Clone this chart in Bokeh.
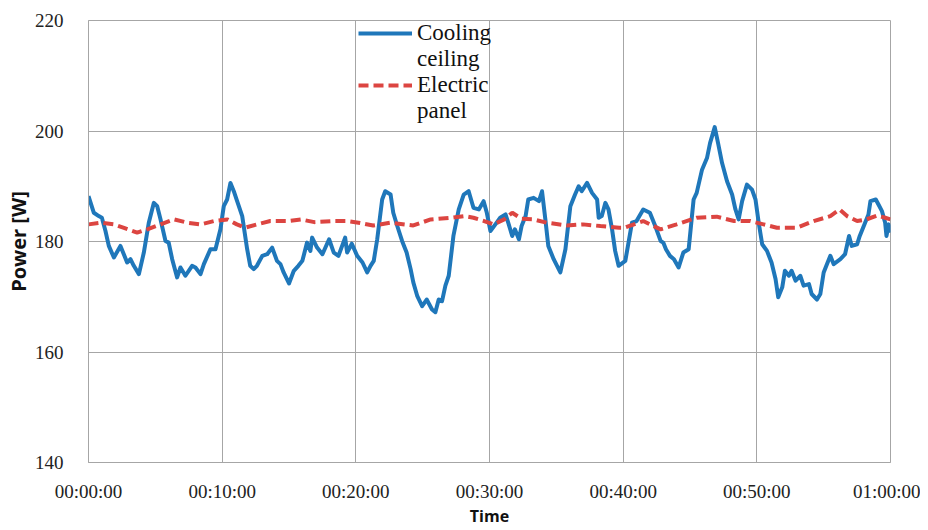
from bokeh.plotting import figure
from bokeh.models import FixedTicker, Legend, LegendItem, Range1d
from bokeh.embed import file_html
from bokeh.resources import INLINE

# ---- data (minutes, W) ----
cool_t = [0, 0.4, 0.77, 1.0, 1.27, 1.52, 1.9, 2.39, 2.89, 3.14, 3.39, 3.77, 4.14, 4.51, 4.89, 5.14,
          5.39, 5.76, 6.0, 6.26, 6.63, 6.88, 7.25, 7.75, 8.0, 8.38, 8.63, 9.12, 9.5, 9.87, 10.12,
          10.37, 10.62, 10.87, 11.12, 11.5, 11.87, 12.1, 12.36, 12.6, 13.0, 13.37, 13.74, 14.1,
          14.36, 14.6, 15.0, 15.36, 15.7, 16.0, 16.35, 16.6, 16.73, 17.1, 17.5, 18.0, 18.35, 18.7,
          19.2, 19.35, 19.7, 20.1, 20.5, 20.85, 21.1, 21.34, 21.6, 21.97, 22.2, 22.6, 22.8, 23.1,
          23.46, 23.8, 24.1, 24.3, 24.6, 24.96, 25.3, 25.7, 25.95, 26.2, 26.45, 26.7, 26.95, 27.3,
          27.7, 28.07, 28.44, 28.8, 29.2, 29.56, 29.8, 30.07, 30.44, 30.8, 31.2, 31.4, 31.7, 31.9,
          32.2, 32.4, 32.7, 32.9, 33.3, 33.7, 33.93, 34.18, 34.4, 34.8, 35.3, 35.68, 36.05, 36.4,
          36.67, 36.9, 37.3, 37.67, 38.05, 38.17, 38.4, 38.67, 38.9, 39.17, 39.4, 39.66, 40.16,
          40.4, 40.66, 41.0, 41.5, 42.0, 42.4, 42.8, 43.0, 43.2, 43.5, 43.8, 44.15, 44.5, 44.9,
          45.27, 45.5, 45.9, 46.27, 46.5, 46.85, 47.1, 47.4, 47.77, 48.15, 48.4, 48.64, 48.9,
          49.26, 49.64, 49.9, 50.14, 50.4, 50.76, 51.1, 51.4, 51.6, 51.9, 52.1, 52.4, 52.6, 52.9,
          53.25, 53.5, 53.9, 54.1, 54.5, 54.75, 55.0, 55.2, 55.5, 55.75, 56.25, 56.6, 56.9, 57.1,
          57.5, 57.7, 58.1, 58.35, 58.5, 58.9, 59.1, 59.36, 59.6, 59.7, 59.86, 60]
cool_w = [188.2, 185.2, 184.6, 184.3, 181.9, 179.2, 177.1, 179.2, 176.2, 176.8, 175.6, 174.1, 178.0,
          183.4, 187.0, 186.4, 184.0, 180.1, 179.8, 176.8, 173.5, 175.3, 173.8, 175.6, 175.3, 174.1,
          175.9, 178.6, 178.6, 182.2, 186.4, 187.6, 190.6, 189.1, 187.3, 184.6, 178.6, 175.6, 175.0,
          175.6, 177.4, 177.7, 178.9, 176.5, 175.9, 174.4, 172.4, 174.7, 175.6, 176.5, 179.8, 178.3,
          180.7, 178.9, 177.7, 180.4, 178.0, 177.4, 180.7, 178.0, 179.6, 177.4, 176.2, 174.4, 175.6,
          176.5, 180.4, 187.6, 189.1, 188.5, 185.2, 182.8, 180.1, 178.0, 175.0, 172.6, 170.1, 168.3,
          169.5, 167.7, 167.2, 169.5, 169.2, 172.0, 173.8, 181.0, 185.8, 188.5, 189.1, 186.1, 185.8,
          187.3, 185.2, 181.9, 183.1, 184.3, 184.9, 183.4, 181.0, 182.2, 180.4, 182.8, 184.6, 187.6,
          187.9, 187.3, 189.1, 184.0, 179.2, 176.8, 174.4, 178.6, 186.4, 188.5, 190.0, 189.1, 190.6,
          188.8, 187.6, 184.3, 184.6, 187.0, 185.8, 182.2, 178.3, 175.6, 176.5, 179.8, 183.4, 183.7,
          185.8, 185.2, 182.8, 180.1, 179.8, 178.6, 177.4, 176.8, 175.3, 178.0, 178.6, 187.6, 188.8,
          193.0, 195.1, 197.8, 200.7, 197.8, 194.2, 190.9, 188.5, 185.8, 184.0, 187.3, 190.3, 189.4,
          187.6, 183.4, 179.5, 178.3, 176.2, 173.2, 169.9, 171.7, 174.7, 173.8, 174.7, 172.9, 173.8,
          172.0, 172.3, 170.5, 169.5, 170.5, 174.4, 175.6, 177.4, 175.9, 176.8, 177.7, 181.0, 179.2,
          179.5, 181.0, 183.4, 184.9, 187.3, 187.6, 186.7, 185.5, 183.4, 181.0, 183.1, 181.6]

elec_t = [0, 0.9, 1.9, 2.6, 3.64, 4.4, 5.4, 6.4, 7.4, 8.4, 9.4, 10.4, 11.1, 11.7, 12.6, 13.6, 14.9,
          15.9, 16.9, 18.35, 19.35, 20.2, 21.3, 22.6, 24.3, 25.6, 27.1, 28.1, 28.8, 29.6, 30.3,
          31.1, 31.7, 32.4, 33.3, 34.3, 35.8, 37.0, 38.3, 39.7, 40.1, 41.5, 42.8, 44.0, 45.5, 47.0,
          48.3, 49.5, 50.5, 51.5, 53.0, 54.25, 55.5, 56.2, 56.75, 57.5, 58.2, 59.0, 59.6, 60]
elec_w = [183.1, 183.4, 183.1, 182.5, 181.6, 182.2, 183.1, 184.0, 183.4, 183.1, 183.7, 184.0, 183.1,
          182.5, 183.1, 183.7, 183.7, 184.0, 183.5, 183.7, 183.7, 183.4, 182.9, 183.4, 182.9, 184.0,
          184.3, 184.6, 184.3, 183.7, 183.1, 184.0, 185.2, 184.1, 184.0, 183.4, 182.9, 183.1, 182.8,
          182.5, 182.5, 183.7, 182.2, 183.1, 184.3, 184.5, 183.7, 183.7, 183.1, 182.5, 182.5, 183.7,
          184.6, 185.8, 184.6, 183.7, 184.0, 184.7, 184.3, 184.0]

x_ticks = [0, 10, 20, 30, 40, 50, 60]
x_tick_labels = ["00:00:00", "00:10:00", "00:20:00", "00:30:00", "00:40:00", "00:50:00", "01:00:00"]
y_ticks = [140, 160, 180, 200, 220]
# legend labels, each name wrapped onto two lines as in the original
cool_name = ["Cooling", "ceiling"]
elec_name = ["Electric", "panel"]

SERIF = "Liberation Serif"
SANS = "Open Sans"
GRID = "#a6a6a6"
BLUE = "#1f77ba"
RED = "#dc4541"

p = figure(width=920, height=529, output_backend="svg", toolbar_location=None,
           x_range=Range1d(0, 60), y_range=Range1d(140, 220),
           min_border_left=88, min_border_right=30, min_border_top=20, min_border_bottom=65)

r_cool = p.line(cool_t, cool_w, line_color=BLUE, line_width=4, line_join="round")
r_elec = p.line(elec_t, elec_w, line_color=RED, line_width=4, line_dash="10 5")
# invisible renderers that only carry the second line of each legend label
r_cool2 = p.line([], [], line_alpha=0)
r_elec2 = p.line([], [], line_alpha=0)

p.xaxis.ticker = FixedTicker(ticks=x_ticks)
p.xaxis.major_label_overrides = {t: l for t, l in zip(x_ticks, x_tick_labels)}
p.yaxis.ticker = FixedTicker(ticks=y_ticks)

for ax in (p.xaxis, p.yaxis):
    ax.axis_line_color = GRID
    ax.major_tick_line_color = None
    ax.minor_tick_line_color = None
    ax.major_label_text_font = SERIF
    ax.major_label_text_font_size = "19px"
    ax.major_label_text_color = "#222222"
    ax.axis_label_text_font = SANS
    ax.axis_label_text_font_style = "bold"
    ax.axis_label_text_color = "#111111"

p.xaxis.axis_label = "Time"
p.xaxis.axis_label_text_font_size = "16px"
p.xaxis.major_label_standoff = 12
p.xaxis.axis_label_standoff = 0
p.yaxis.axis_label = "Power [W]"
p.yaxis.axis_label_text_font_size = "20px"
p.yaxis.major_label_standoff = 19
p.yaxis.axis_label_standoff = 0

p.xgrid.grid_line_color = GRID
p.ygrid.grid_line_color = GRID
p.outline_line_color = GRID
p.background_fill_color = "white"

legend = Legend(items=[LegendItem(label=cool_name[0], renderers=[r_cool]),
                       LegendItem(label=cool_name[1], renderers=[r_cool2]),
                       LegendItem(label=elec_name[0], renderers=[r_elec]),
                       LegendItem(label=elec_name[1], renderers=[r_elec2])],
                location=(270, 338))
legend.background_fill_alpha = 0
legend.border_line_alpha = 0
legend.padding = 0
legend.margin = 0
legend.spacing = 0
legend.glyph_width = 54
legend.label_standoff = 5
legend.label_text_font = SERIF
legend.label_text_font_size = "23px"
legend.label_text_color = "#111111"
p.add_layout(legend, "center")

open("out.html", "w").write(file_html(p, INLINE))
